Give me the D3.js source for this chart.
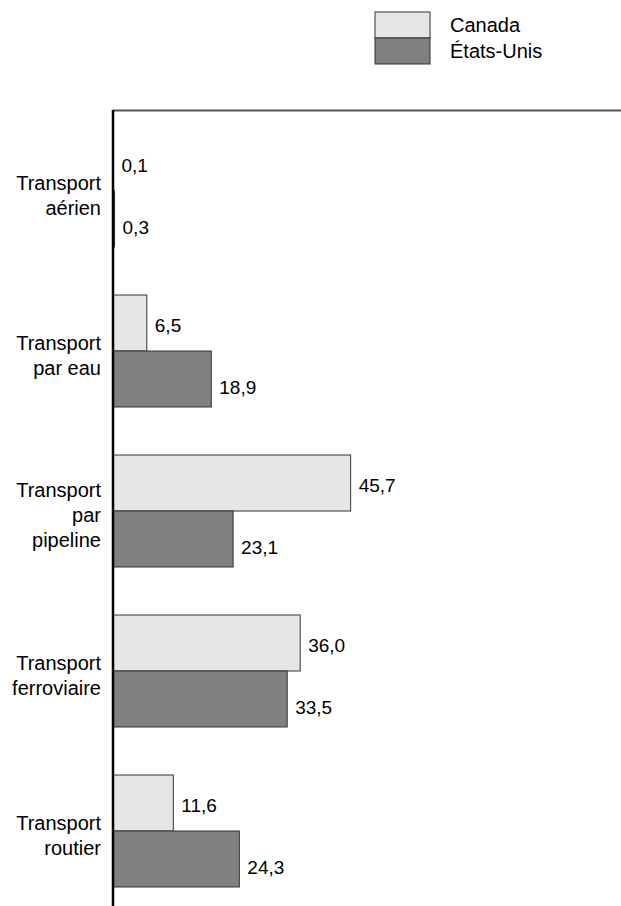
<!DOCTYPE html>
<html>
<head>
<meta charset="utf-8">
<script src="https://cdn.jsdelivr.net/npm/d3@7"></script>
<style>
  body { margin: 0; background: #fff; }
  text { font-family: "Liberation Sans", Arial, sans-serif; fill: #000; }
</style>
</head>
<body>
<div id="chart"></div>
<script>
var categories = ["Transport\naérien", "Transport\npar eau", "Transport\npar\npipeline", "Transport\nferroviaire", "Transport\nroutier"];
var series = ["Canada", "États-Unis"];
var canada = [0.1, 6.5, 45.7, 36.0, 11.6];
var etatsUnis = [0.3, 18.9, 23.1, 33.5, 24.3];

var width = 621, height = 906;
var colors = { "Canada": "#e6e6e6", "États-Unis": "#808080" };
var fmt = function (v) { return d3.format(".1f")(v).replace(".", ","); };

var svg = d3.select("#chart").append("svg")
  .attr("width", width)
  .attr("height", height);

var x = d3.scaleLinear().domain([0, 100]).range([113, 633]);
var y = d3.scaleBand().domain(categories).range([111, 911])
  .paddingInner(0.3).paddingOuter(0.15);
var y1 = d3.scaleBand().domain(series).range([0, y.bandwidth()]);

var rows = categories.map(function (c, i) {
  return { cat: c, vals: [
    { s: "Canada", v: canada[i], dy: 2 },
    { s: "États-Unis", v: etatsUnis[i], dy: 8 }
  ] };
});

var g = svg.selectAll("g.grp").data(rows).enter().append("g")
  .attr("class", "grp")
  .attr("transform", function (d) { return "translate(0," + y(d.cat) + ")"; });

g.selectAll("rect").data(function (d) { return d.vals; }).enter().append("rect")
  .attr("x", x(0))
  .attr("y", function (d) { return y1(d.s); })
  .attr("width", function (d) { return x(d.v) - x(0); })
  .attr("height", y1.bandwidth())
  .attr("fill", function (d) { return colors[d.s]; })
  .attr("stroke", "#333")
  .attr("stroke-width", 1);

g.selectAll("text.val").data(function (d) { return d.vals; }).enter().append("text")
  .attr("class", "val")
  .attr("x", function (d) { return x(d.v) + 8; })
  .attr("y", function (d) { return y1(d.s) + y1.bandwidth() / 2 + d.dy; })
  .attr("dy", "0.35em")
  .attr("font-size", 19)
  .text(function (d) { return fmt(d.v); });

// category labels
g.each(function (d) {
  var lines = d.cat.split("\n");
  var t = d3.select(this).append("text")
    .attr("text-anchor", "end")
    .attr("font-size", 20);
  var lh = 25;
  var start = y.bandwidth() / 2 + 4 - (lines.length - 1) * lh / 2;
  lines.forEach(function (l, i) {
    t.append("tspan").attr("x", 101).attr("y", start + i * lh).attr("dy", "0.35em").text(l);
  });
});

// frame lines
svg.append("line")
  .attr("x1", x(0)).attr("x2", width)
  .attr("y1", 110.5).attr("y2", 110.5)
  .attr("stroke", "#555").attr("stroke-width", 2);
svg.append("line")
  .attr("x1", x(0)).attr("x2", x(0))
  .attr("y1", 110).attr("y2", height)
  .attr("stroke", "#000").attr("stroke-width", 2.5);

// legend
var leg = svg.append("g").attr("transform", "translate(375,12)");
leg.selectAll("rect").data(series).enter().append("rect")
  .attr("x", 0)
  .attr("y", function (d, i) { return i * 26; })
  .attr("width", 55).attr("height", 26)
  .attr("fill", function (d) { return colors[d]; })
  .attr("stroke", "#333").attr("stroke-width", 1);
leg.selectAll("text").data(series).enter().append("text")
  .attr("x", 75)
  .attr("y", function (d, i) { return i * 26 + 13; })
  .attr("dy", "0.35em")
  .attr("font-size", 20)
  .text(function (d) { return d; });
</script>
</body>
</html>
